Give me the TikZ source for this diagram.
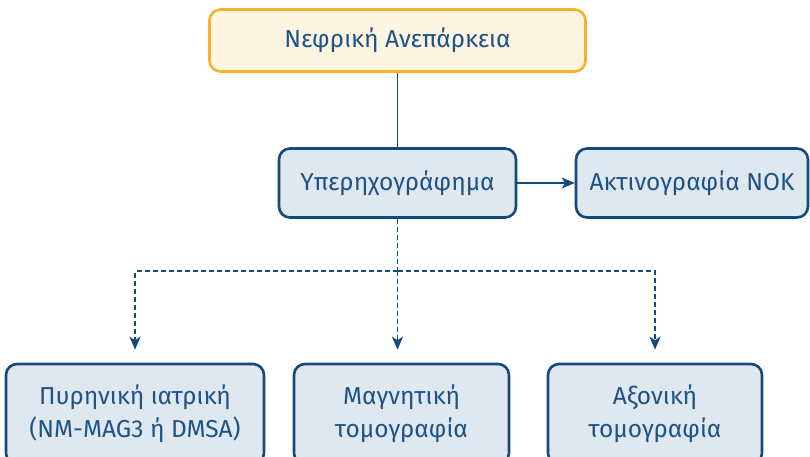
\documentclass[tikz,border=0pt]{standalone}
\usepackage{fontspec}
\setmainfont{Fira Sans}
\usetikzlibrary{positioning, arrows.meta}
\definecolor{navy}{HTML}{134A7C}
\definecolor{navyfill}{HTML}{DFE7EF}
\definecolor{gold}{HTML}{F7B12C}
\definecolor{goldfill}{HTML}{FEF4E2}
\definecolor{txtc}{HTML}{1D5387}

\begin{document}
\begin{tikzpicture}[x=1pt, y=-1pt,
  box/.style={draw=navy, fill=navyfill, line width=2.6pt, rounded corners=11pt,
    text=txtc, font=\fontsize{24.5}{33}\selectfont, align=center, inner sep=0pt},
  topbox/.style={box, draw=gold, fill=goldfill},
  link/.style={navy, line width=1.7pt},
  tip/.style={-{Stealth[length=13pt, width=11pt, inset=3.5pt]}},
  dashlink/.style={link, dash pattern=on 5pt off 3pt}]
  \useasboundingbox (0,0) rectangle (810,457);
  % main boxes
  \node[topbox, minimum width=376, minimum height=62] (renal) at (397.5,40.5) {Νεφρική Ανεπάρκεια};
  \node[box, minimum width=237, minimum height=69] (us) at (397.5,183) {Υπερηχογράφημα};
  \node[box, minimum width=232, minimum height=69] (xray) at (692,183) {Ακτινογραφία ΝΟΚ};
  % further imaging
  \node[box, minimum width=258, minimum height=100] (nm) at (135,414) {Πυρηνική ιατρική\\(NM-MAG3 ή DMSA)};
  \node[box, minimum width=215, minimum height=100] (mri) at (401.5,414) {Μαγνητική\\τομογραφία};
  \node[box, minimum width=214, minimum height=100] (ct) at (655,414) {Αξονική\\τομογραφία};
  % connectors
  \coordinate (split) at (397.5,271);
  \draw[link] (renal) -- (us);
  \draw[link, tip] (us) -- (xray);
  \draw[dashlink] (us) -- (split);
  \draw[dashlink, tip, shorten >=13pt] (split) -| (nm);
  \draw[dashlink, tip, shorten >=13pt] (split) -- (split |- mri.north);
  \draw[dashlink, tip, shorten >=13pt] (split) -| (ct);
\end{tikzpicture}
\end{document}
